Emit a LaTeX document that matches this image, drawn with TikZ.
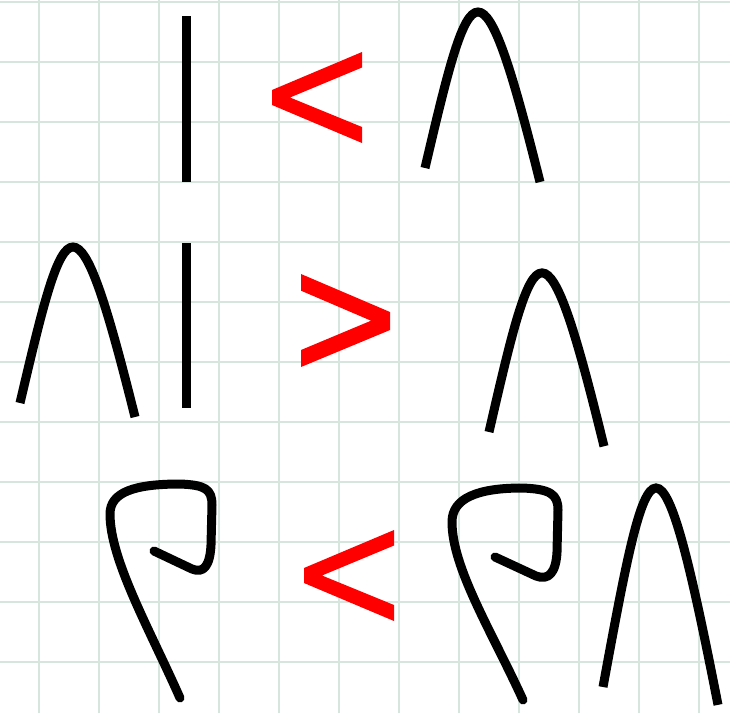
\documentclass[tikz,border=0pt]{standalone}
\definecolor{gridc}{RGB}{214,230,223}
\tikzset{
  gridline/.style={draw=gridc, line width=1.8pt},
  stroke/.style={draw=black, line width=9pt},
  curlstroke/.style={draw=black, line width=9pt, line cap=round, line join=round},
  redmark/.style={fill=red, draw=none},
}
\newcommand{\archat}[3]{%
  \begin{scope}[shift={(#1,#2)}, yscale=#3]
    \draw[stroke] (0,0) .. controls (23,-98) and (37,-156) .. (53,-156)
      .. controls (69,-156) and (87,-98) .. (115,14);
  \end{scope}}
\newcommand{\lessat}[2]{%
  \begin{scope}[shift={(#1,#2)}]
    \fill[redmark] (90,0) -- (0,38) -- (0,53) -- (90,91) -- (90,75) -- (18,45.5) -- (90,15.5) -- cycle;
  \end{scope}}
\newcommand{\greaterat}[2]{%
  \begin{scope}[shift={(#1,#2)}]
    \fill[redmark] (0,0) -- (89,38) -- (89,56) -- (0,93) -- (0,76) -- (70,46.7) -- (0,16.7) -- cycle;
  \end{scope}}
\begin{document}
\begin{tikzpicture}[x=1pt, y=-1pt]
  \useasboundingbox (0,0) rectangle (730,713);
  \fill[white] (0,0) rectangle (730,713);
  % grid
  \foreach \gx in {39,99,...,699} { \draw[gridline] (\gx,0) -- (\gx,713); }
  \foreach \gy in {2,62,...,662} { \draw[gridline] (0,\gy) -- (730,\gy); }
  % row 1
  \draw[stroke] (186,16) -- (186,182);
  \lessat{272}{52}
  \archat{425}{168}{1}
  % row 2
  \archat{20}{403}{1}
  \draw[stroke] (186,243) -- (186,408);
  \greaterat{301}{274}
  \archat{489}{432}{1.02}
  % row 3
  \draw[curlstroke] (154,551) -- (192,569) .. controls (204,574) and (210,565) .. (211,545)
    -- (212,505) .. controls (212,489) and (205,485) .. (180,484)
    .. controls (135,484) and (110,492) .. (110,514)
    .. controls (110,560) and (150,630) .. (180,698);
  \lessat{304}{530}
  \draw[curlstroke] (495,557) -- (536,576) .. controls (549,581) and (556,572) .. (557,552)
    -- (558,510) .. controls (558,494) and (550,489) .. (522,488)
    .. controls (478,488) and (452,498) .. (452,522)
    .. controls (452,568) and (492,632) .. (523,700);
  \archat{603}{687}{1.276}
\end{tikzpicture}
\end{document}
